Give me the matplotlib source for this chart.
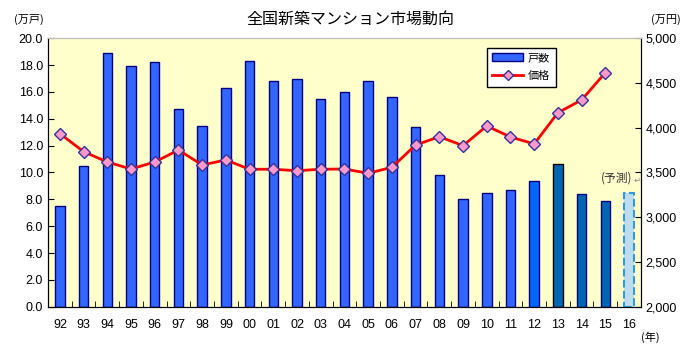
import numpy as np
import matplotlib as mpl
mpl.use('Agg')
import matplotlib.pyplot as plt

plt.rcParams['font.family'] = ['Liberation Sans', 'Noto Sans CJK JP', 'DejaVu Sans']

years = ['92', '93', '94', '95', '96', '97', '98', '99', '00', '01', '02', '03',
         '04', '05', '06', '07', '08', '09', '10', '11', '12', '13', '14', '15', '16']
units = [7.5, 10.5, 18.9, 17.9, 18.2, 14.7, 13.5, 16.3, 18.3, 16.8, 17.0, 15.5,
         16.0, 16.8, 15.6, 13.4, 9.8, 8.0, 8.45, 8.7, 9.4, 10.6, 8.4, 7.9, 8.45]
price = [3934, 3733, 3617, 3539, 3617, 3751, 3584, 3640, 3536, 3536, 3520, 3536,
         3539, 3491, 3558, 3807, 3900, 3800, 4020, 3897, 3819, 4168, 4310, 4616]

x = np.arange(len(years))
fills = ['#3366FF'] * 20 + ['#0066FF', '#0066B3', '#0066B3', '#0066B3', '#BDDDEE']
edges = ['#000080'] * 20 + ['#000080', '#000000', '#000080', '#000080', '#3399DD']
jp = ['Noto Sans CJK JP', 'DejaVu Sans']

fig = plt.figure(figsize=(7, 3.5), dpi=100)
ax = fig.add_axes([0.0686, 0.1237, 0.847, 0.767])
ax.set_facecolor('#FFFFCC')

bars = ax.bar(x, units, width=0.4, color=fills, edgecolor=edges, linewidth=1, zorder=2)
bars[-1].set_linestyle('--')
bars[-1].set_linewidth(1.5)
ax.set_xlim(-0.5, len(years) - 0.5)
ax.set_ylim(0, 20)
ax.set_yticks(np.arange(0, 20.1, 2))
ax.set_yticklabels(['%.1f' % v for v in np.arange(0, 20.1, 2)])
ax.set_xticks(x)
ax.set_xticklabels(years)
ax.set_xticks(np.arange(0.5, len(years) - 0.5, 1), minor=True)
ax.tick_params(axis='x', which='major', length=0, pad=9, labelsize=9)
ax.tick_params(axis='x', which='minor', direction='in', length=4)
ax.tick_params(axis='y', direction='in', length=4, labelsize=9)
ax.spines['top'].set_color('#BBBBBB')

ax2 = ax.twinx()
ax2.plot(x[:len(price)], price, '-', color='#FF0000', lw=2,
         marker='D', markersize=6.5, markerfacecolor='#FF99CC',
         markeredgecolor='#333399', markeredgewidth=1, zorder=3)
ax2.set_ylim(2000, 5000)
ax2.set_yticks(np.arange(2000, 5001, 500))
ax2.set_yticklabels(['{:,}'.format(v) for v in range(2000, 5001, 500)])
ax2.tick_params(axis='y', direction='in', length=4, labelsize=9)
ax2.spines['top'].set_color('#BBBBBB')

h1 = mpl.patches.Patch(facecolor='#3366FF', edgecolor='#000080', label='戸数')
h2 = mpl.lines.Line2D([], [], color='#FF0000', lw=2, marker='D', markersize=5,
                      markerfacecolor='#FF99CC', markeredgecolor='#333399', label='価格')
leg = ax2.legend(handles=[h1, h2], loc='upper left', bbox_to_anchor=(0.74, 0.965),
                 prop={'family': jp, 'size': 8}, frameon=True, fancybox=False,
                 framealpha=1, edgecolor='black', handlelength=2.8, handletextpad=0.4,
                 borderpad=0.5, labelspacing=0.7, borderaxespad=0)
leg.get_frame().set_linewidth(1)

fig.text(0.5, 0.945, '全国新築マンション市場動向', ha='center', va='center',
         fontsize=11.5, family=jp)
fig.text(0.02, 0.945, '(万戸)', ha='left', va='center', fontsize=8, family=jp)
fig.text(0.93, 0.945, '(万円)', ha='left', va='center', fontsize=8, family=jp)
fig.text(0.915, 0.035, '(年)', ha='left', va='center', fontsize=8, family=jp)
ax.text(24.15, 9.6, '(予測)', ha='right', va='center', fontsize=8.5,
        color='#333333', family=jp)
ax.text(24.2, 9.45, '↵', ha='left', va='center', fontsize=6, color='#888888',
        family=['DejaVu Sans'])

fig.savefig('out.png', dpi=100)
